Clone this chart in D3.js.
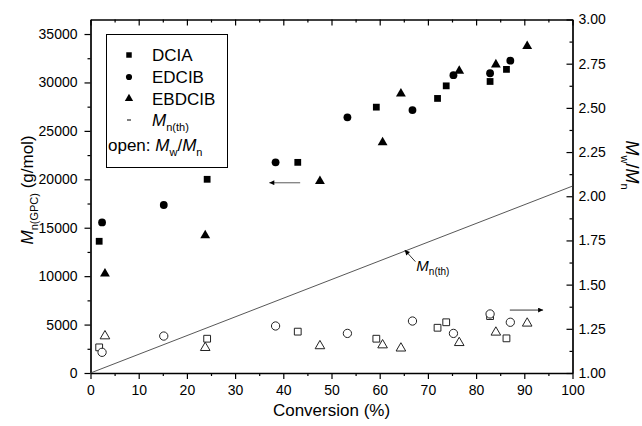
<!DOCTYPE html>
<html>
<head>
<meta charset="utf-8">
<script src="https://cdn.jsdelivr.net/npm/d3@7"></script>
<style>
  body { margin: 0; background: #fff; }
  svg { display: block; }
  text { font-family: "Liberation Sans", Arial, Helvetica, sans-serif; fill: #000; }
</style>
</head>
<body>
<svg id="chart" width="642" height="426"></svg>
<script>
// Conversion (%) for each initiator series
const conversionDCIA   = [1.8, 24.2, 43.0, 59.3, 72.0, 73.8, 82.9, 86.3];
const conversionEDCIB  = [2.4, 15.2, 38.4, 53.3, 66.8, 75.3, 82.9, 87.1];
const conversionEBDCIB = [3.0, 23.8, 47.6, 60.6, 64.4, 76.5, 84.1, 90.6];

// Mn from GPC (g/mol), left axis, filled symbols
const mnDCIA   = [13600, 20000, 21750, 27450, 28350, 29650, 30100, 31350];
const mnEDCIB  = [15550, 17350, 21750, 26400, 27150, 30750, 30950, 32250];
const mnEBDCIB = [10250, 14200, 19800, 23800, 28850, 31200, 31850, 33750];

// Mw/Mn, right axis, open symbols
const pdiDCIA   = [1.145, 1.194, 1.234, 1.194, 1.256, 1.287, 1.322, 1.196];
const pdiEDCIB  = [1.117, 1.209, 1.266, 1.224, 1.294, 1.224, 1.334, 1.287];
const pdiEBDCIB = [1.209, 1.143, 1.153, 1.158, 1.140, 1.171, 1.230, 1.281];

// Theoretical Mn line
const conversionTheory = [0, 100];
const mnTheory = [0, 19300];

// Tick values
const xMajor = d3.range(0, 101, 10);
const xMinor = d3.range(5, 100, 10);
const yLeftMajor = d3.range(0, 35001, 5000);
const yLeftMinor = d3.range(2500, 35000, 5000);
const yRightMajor = [1.00, 1.25, 1.50, 1.75, 2.00, 2.25, 2.50, 2.75, 3.00];
const yRightMinor = [1.125, 1.375, 1.625, 1.875, 2.125, 2.375, 2.625, 2.875];

const FONT = '"Liberation Sans", Arial, Helvetica, sans-serif';
const svg = d3.select("#chart");

const plotLeft = 90.5, plotRight = 572.5, plotTop = 19.5, plotBottom = 373;
const x  = d3.scaleLinear().domain([0, 100]).range([plotLeft, plotRight]);
const yL = d3.scaleLinear().domain([0, 36500]).range([plotBottom, plotTop]);
const yR = d3.scaleLinear().domain([1, 3]).range([plotBottom, plotTop]);

function styleAxis(g, keepDomain) {
  g.attr("font-family", FONT).attr("font-size", 14);
  g.selectAll(".tick line").attr("stroke", "#000").attr("stroke-width", 1.2);
  g.selectAll("text").attr("fill", "#000");
  if (keepDomain) g.select(".domain").attr("stroke", "#000").attr("stroke-width", 1.7);
  else g.select(".domain").remove();
}

// bottom axis
svg.append("g").attr("transform", `translate(0,${plotBottom})`)
  .call(d3.axisBottom(x).tickValues(xMajor).tickSize(6).tickSizeOuter(0).tickPadding(6).tickFormat(d3.format("d")))
  .call(g => styleAxis(g, true));
svg.append("g").attr("transform", `translate(0,${plotBottom})`)
  .call(d3.axisBottom(x).tickValues(xMinor).tickSize(3).tickFormat(""))
  .call(g => styleAxis(g, false));

// top axis (ticks inward, no labels)
svg.append("g").attr("transform", `translate(0,${plotTop})`)
  .call(d3.axisTop(x).tickValues(xMajor).tickSize(-6).tickSizeOuter(0).tickFormat(""))
  .call(g => styleAxis(g, true));
svg.append("g").attr("transform", `translate(0,${plotTop})`)
  .call(d3.axisTop(x).tickValues(xMinor).tickSize(-3).tickFormat(""))
  .call(g => styleAxis(g, false));

// left axis
svg.append("g").attr("transform", `translate(${plotLeft},0)`)
  .call(d3.axisLeft(yL).tickValues(yLeftMajor).tickSize(6).tickSizeOuter(0).tickPadding(7).tickFormat(d3.format("d")))
  .call(g => styleAxis(g, true));
svg.append("g").attr("transform", `translate(${plotLeft},0)`)
  .call(d3.axisLeft(yL).tickValues(yLeftMinor).tickSize(3).tickFormat(""))
  .call(g => styleAxis(g, false));

// right axis (ticks inward)
svg.append("g").attr("transform", `translate(${plotRight},0)`)
  .call(d3.axisRight(yR).tickValues(yRightMajor).tickSize(-6).tickSizeOuter(0).tickPadding(6).tickFormat(d3.format(".2f")))
  .call(g => styleAxis(g, true));
svg.append("g").attr("transform", `translate(${plotRight},0)`)
  .call(d3.axisRight(yR).tickValues(yRightMinor).tickSize(-3).tickFormat(""))
  .call(g => styleAxis(g, false));

// theoretical Mn line
svg.append("path")
  .datum(d3.zip(conversionTheory, mnTheory))
  .attr("fill", "none").attr("stroke", "#444").attr("stroke-width", 0.9)
  .attr("d", d3.line().x(d => x(d[0])).y(d => yL(d[1])));

// symbols
const shapes = {
  square:   { type: d3.symbolSquare,   filled: 46, open: 46 },
  circle:   { type: d3.symbolCircle,   filled: 48, open: 54 },
  triangle: { type: d3.symbolTriangle, filled: 42, open: 40 }
};
const series = [
  { shape: "square",   conv: conversionDCIA,   mn: mnDCIA,   pdi: pdiDCIA },
  { shape: "circle",   conv: conversionEDCIB,  mn: mnEDCIB,  pdi: pdiEDCIB },
  { shape: "triangle", conv: conversionEBDCIB, mn: mnEBDCIB, pdi: pdiEBDCIB }
];

// open symbols: Mw/Mn on the right axis
series.forEach(s => {
  const sh = shapes[s.shape];
  svg.append("g").selectAll("path")
    .data(d3.zip(s.conv, s.pdi)).join("path")
    .attr("transform", d => `translate(${x(d[0])},${yR(d[1])})`)
    .attr("d", d3.symbol().type(sh.type).size(sh.open)())
    .attr("fill", "#fff").attr("stroke", "#222").attr("stroke-width", 1);
});

// filled symbols: Mn(GPC) on the left axis
series.forEach(s => {
  const sh = shapes[s.shape];
  svg.append("g").selectAll("path")
    .data(d3.zip(s.conv, s.mn)).join("path")
    .attr("transform", d => `translate(${x(d[0])},${yL(d[1])})`)
    .attr("d", d3.symbol().type(sh.type).size(sh.filled)())
    .attr("fill", "#000");
});

// arrows pointing to the relevant axis
svg.append("defs").append("marker")
  .attr("id", "head").attr("viewBox", "0 0 10 10").attr("refX", 10).attr("refY", 5)
  .attr("markerWidth", 7).attr("markerHeight", 5).attr("markerUnits", "userSpaceOnUse")
  .attr("orient", "auto")
  .append("path").attr("d", "M0,0L10,5L0,10z").attr("fill", "#000");

svg.append("line")
  .attr("x1", x(43.5)).attr("x2", x(37.1)).attr("y1", yL(19650)).attr("y2", yL(19650))
  .attr("stroke", "#888").attr("stroke-width", 1.4).attr("marker-end", "url(#head)");
svg.append("line")
  .attr("x1", x(87.0)).attr("x2", x(93.9)).attr("y1", yR(1.356)).attr("y2", yR(1.356))
  .attr("stroke", "#000").attr("stroke-width", 0.8).attr("marker-end", "url(#head)");

// label for the theoretical line
svg.append("line")
  .attr("x1", x(67.4)).attr("y1", yL(11500)).attr("x2", x(65.2)).attr("y2", yL(12700))
  .attr("stroke", "#000").attr("stroke-width", 0.8).attr("marker-end", "url(#head)");
const thLabel = svg.append("text").attr("x", x(67.6)).attr("y", yL(10500)).attr("font-size", 15);
thLabel.append("tspan").attr("font-style", "italic").text("M");
thLabel.append("tspan").attr("font-size", 10).attr("dy", 4).text("n(th)");

// axis titles
svg.append("text").attr("x", (plotLeft + plotRight) / 2).attr("y", 416)
  .attr("text-anchor", "middle").attr("font-size", 17).text("Conversion (%)");

const yTitle = svg.append("text")
  .attr("transform", `translate(33,190) rotate(-90)`)
  .attr("text-anchor", "middle").attr("font-size", 17);
yTitle.append("tspan").attr("font-style", "italic").text("M");
yTitle.append("tspan").attr("font-size", 11).attr("dy", 5).text("n(GPC)");
yTitle.append("tspan").attr("dy", -5).text(" (g/mol)");

const rTitle = svg.append("text")
  .attr("transform", `translate(626,165) rotate(90)`)
  .attr("text-anchor", "middle").attr("font-size", 18);
rTitle.append("tspan").attr("font-style", "italic").text("M");
rTitle.append("tspan").attr("font-size", 11).attr("dy", 5).text("w");
rTitle.append("tspan").attr("dy", -5).text("/");
rTitle.append("tspan").attr("font-style", "italic").text("M");
rTitle.append("tspan").attr("font-size", 11).attr("dy", 5).text("n");

// legend
const legend = svg.append("g");
legend.append("rect").attr("x", 106.5).attr("y", 34.5).attr("width", 121).attr("height", 133)
  .attr("fill", "#fff").attr("stroke", "#000").attr("stroke-width", 1);
const legendNames = ["DCIA", "EDCIB", "EBDCIB"];
const legendShapes = ["square", "circle", "triangle"];
const legendY = [55, 77, 98.5];
legendNames.forEach((name, i) => {
  legend.append("path")
    .attr("transform", `translate(129,${legendY[i]})`)
    .attr("d", d3.symbol().type(shapes[legendShapes[i]].type).size(30)())
    .attr("fill", "#000");
  legend.append("text").attr("x", 152).attr("y", legendY[i]).attr("dy", "0.36em")
    .attr("font-size", 17).text(name);
});
legend.append("line").attr("x1", 127).attr("x2", 131).attr("y1", 120).attr("y2", 120)
  .attr("stroke", "#000").attr("stroke-width", 1);
const lgTh = legend.append("text").attr("x", 152).attr("y", 120).attr("dy", "0.36em").attr("font-size", 17);
lgTh.append("tspan").attr("font-style", "italic").text("M");
lgTh.append("tspan").attr("font-size", 11).attr("dy", 5).text("n(th)");

const lgOpen = legend.append("text").attr("x", 108).attr("y", 151).attr("font-size", 17);
lgOpen.append("tspan").text("open: ");
lgOpen.append("tspan").attr("font-style", "italic").text("M");
lgOpen.append("tspan").attr("font-size", 11).attr("dy", 5).text("w");
lgOpen.append("tspan").attr("dy", -5).text("/");
lgOpen.append("tspan").attr("font-style", "italic").text("M");
lgOpen.append("tspan").attr("font-size", 11).attr("dy", 5).text("n");
</script>
</body>
</html>
